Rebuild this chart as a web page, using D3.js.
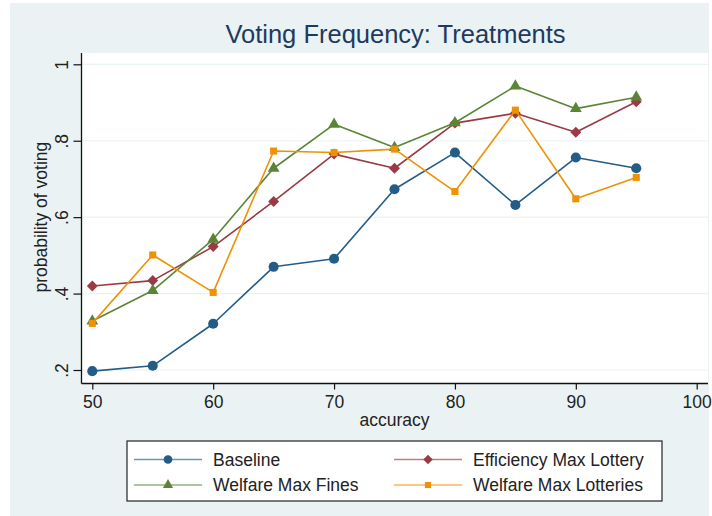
<!DOCTYPE html>
<html>
<head>
<meta charset="utf-8">
<script src="https://cdn.jsdelivr.net/npm/d3@7"></script>
<style>
  html, body { margin: 0; padding: 0; background: #ffffff; }
  svg { display: block; font-family: "Liberation Sans", Arial, Helvetica, sans-serif; }
</style>
</head>
<body>
<svg id="chart" width="712" height="516"></svg>
<script>
// ---- data ----
const accuracy = [50, 55, 60, 65, 70, 75, 80, 85, 90, 95];
const baseline = [0.197, 0.211, 0.321, 0.470, 0.491, 0.673, 0.769, 0.632, 0.756, 0.728];
const efficiencyMaxLottery = [0.420, 0.434, 0.523, 0.641, 0.765, 0.728, 0.846, 0.872, 0.822, 0.902];
const welfareMaxFines = [0.328, 0.408, 0.542, 0.728, 0.843, 0.782, 0.847, 0.943, 0.884, 0.914];
const welfareMaxLotteries = [0.322, 0.501, 0.403, 0.773, 0.769, 0.778, 0.667, 0.880, 0.648, 0.704];
const seriesNames = ["Baseline", "Efficiency Max Lottery", "Welfare Max Fines", "Welfare Max Lotteries"];
const xTicks = [50, 60, 70, 80, 90, 100];
const yTicks = [0.2, 0.4, 0.6, 0.8, 1];
const yTickLabels = [".2", ".4", ".6", ".8", "1"];

const colors = ["#235c87", "#9b3a44", "#5b8536", "#ee9103"];
const squatDiamond = {
  draw(context, size) {
    const r = Math.sqrt(size / 2);
    context.moveTo(0, -r); context.lineTo(r, 0); context.lineTo(0, r); context.lineTo(-r, 0); context.closePath();
  }
};
const symbols = [d3.symbolCircle, squatDiamond, d3.symbolTriangle, d3.symbolSquare];
const symSizes = [80, 60, 60, 50];

const series = [
  { name: seriesNames[0], values: baseline },
  { name: seriesNames[1], values: efficiencyMaxLottery },
  { name: seriesNames[2], values: welfareMaxFines },
  { name: seriesNames[3], values: welfareMaxLotteries }
];

const svg = d3.select("#chart");

// outer background
svg.append("rect").attr("x", 10).attr("y", 3).attr("width", 699).attr("height", 513).attr("fill", "#eaf2f3");

// plot region
const plot = { left: 81.5, right: 708, top: 53, bottom: 383.5 };
svg.append("rect").attr("x", plot.left).attr("y", plot.top)
  .attr("width", plot.right - plot.left).attr("height", plot.bottom - plot.top).attr("fill", "#ffffff");

const x = d3.scaleLinear().domain([50, 100]).range([92.3, 696.7]);
const y = d3.scaleLinear().domain([0.2, 1]).range([370, 64.3]);

// gridlines
svg.append("g").selectAll("line").data(yTicks).join("line")
  .attr("x1", plot.left).attr("x2", plot.right)
  .attr("y1", d => y(d)).attr("y2", d => y(d))
  .attr("stroke", "#eaf2f3").attr("stroke-width", 1.2);

// axes
const xAxis = d3.axisBottom(x).tickValues(xTicks).tickSize(6).tickPadding(6).tickFormat(d3.format("d"));
const gx = svg.append("g").attr("transform", `translate(0,${plot.bottom})`).call(xAxis);
gx.select(".domain").attr("d", `M${plot.left},0H${plot.right}`).attr("stroke", "#111").attr("stroke-width", 1.3);
gx.selectAll(".tick line").attr("stroke", "#111").attr("stroke-width", 1.2);
gx.selectAll(".tick text").attr("font-size", 17.5).attr("fill", "#222").attr("font-family", "Liberation Sans, Arial, sans-serif");

const yAxis = d3.axisLeft(y).tickValues(yTicks).tickSize(8).tickFormat((d, i) => yTickLabels[i]);
const gy = svg.append("g").attr("transform", `translate(${plot.left},0)`).call(yAxis);
gy.select(".domain").attr("d", `M0,${plot.top}V${plot.bottom}`).attr("stroke", "#111").attr("stroke-width", 1.3);
gy.selectAll(".tick line").attr("stroke", "#111").attr("stroke-width", 1.2);
gy.selectAll(".tick text")
  .attr("x", null).attr("dy", null)
  .attr("text-anchor", "middle")
  .attr("transform", "translate(-14,0) rotate(-90)")
  .attr("y", 0)
  .attr("font-size", 17.5).attr("fill", "#222").attr("font-family", "Liberation Sans, Arial, sans-serif");

// axis titles
svg.append("text").attr("x", 394.5).attr("y", 426).attr("text-anchor", "middle")
  .attr("font-size", 17.5).attr("fill", "#222").text("accuracy");
svg.append("text").attr("transform", `translate(46.5,${(64.3 + 370) / 2}) rotate(-90)`)
  .attr("text-anchor", "middle").attr("font-size", 17.5).attr("fill", "#222").text("probability of voting");

// title
svg.append("text").attr("x", 395.5).attr("y", 43).attr("text-anchor", "middle")
  .attr("font-size", 25.5).attr("fill", "#1e3a5f").text("Voting Frequency: Treatments");

// lines + markers
const line = d3.line().x((d, i) => x(accuracy[i])).y(d => y(d));
series.forEach((s, k) => {
  const g = svg.append("g");
  g.append("path").attr("d", line(s.values)).attr("fill", "none")
    .attr("stroke", colors[k]).attr("stroke-width", 1.6).attr("stroke-linejoin", "round");
  g.selectAll("path.m").data(s.values).join("path").attr("class", "m")
    .attr("transform", (d, i) => `translate(${x(accuracy[i])},${y(d)})`)
    .attr("d", d3.symbol().type(symbols[k]).size(symSizes[k]))
    .attr("fill", colors[k]);
});

// legend
const lg = svg.append("g");
lg.append("rect").attr("x", 127).attr("y", 441).attr("width", 535).attr("height", 60)
  .attr("fill", "#ffffff").attr("stroke", "#333").attr("stroke-width", 1.3);
const legPos = [
  { x1: 134, x2: 202, mx: 168, tx: 213, y: 459.5 },
  { x1: 394, x2: 462, mx: 428, tx: 473, y: 459.5 },
  { x1: 134, x2: 202, mx: 168, tx: 213, y: 485 },
  { x1: 394, x2: 462, mx: 428, tx: 473, y: 485 }
];
series.forEach((s, k) => {
  const p = legPos[k];
  lg.append("line").attr("x1", p.x1).attr("x2", p.x2).attr("y1", p.y).attr("y2", p.y)
    .attr("stroke", colors[k]).attr("stroke-width", 1.6).attr("stroke-opacity", 0.65);
  lg.append("path").attr("transform", `translate(${p.mx},${p.y})`)
    .attr("d", d3.symbol().type(symbols[k]).size(symSizes[k] * 0.75)).attr("fill", colors[k]);
  lg.append("text").attr("x", p.tx).attr("y", p.y + 6).attr("font-size", 17.5).attr("fill", "#222").text(s.name);
});
</script>
</body>
</html>
